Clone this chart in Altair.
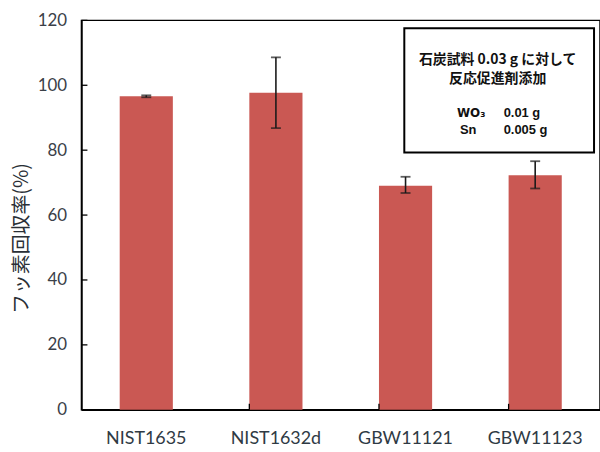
import altair as alt
import pandas as pd

# Fluorine recovery per coal reference material (mean and +/- spread)
samples = ["NIST1635", "NIST1632d", "GBW11121", "GBW11123"]
recovery = [96.6, 97.7, 69.0, 72.3]
err_low = [96.3, 86.8, 66.8, 68.2]
err_high = [96.9, 108.6, 71.8, 76.6]

y_ticks = [0, 20, 40, 60, 80, 100, 120]

df = pd.DataFrame({"sample": samples, "recovery": recovery,
                   "lo": err_low, "hi": err_high})
ticks_df = pd.DataFrame({"v": y_ticks})
bounds_df = pd.DataFrame({"sample": samples[1:]})

BAR = "#ca5853"
LABEL_FONT = "Lato"
JP_FONT = "Noto Sans CJK JP"

x_enc = alt.X("sample:N", sort=samples,
              scale=alt.Scale(paddingInner=0.59, paddingOuter=0.295),
              axis=alt.Axis(title=None, labelAngle=0, ticks=False,
                            labelFont=LABEL_FONT, labelFontSize=18,
                            labelColor="#2f3a44", labelPadding=20,
                            domainColor="black", domainWidth=1.5))
y_scale = alt.Scale(domain=[0, 120], nice=False)

bars = alt.Chart(df).mark_bar(color=BAR).encode(
    x=x_enc,
    y=alt.Y("recovery:Q", scale=y_scale,
            axis=alt.Axis(values=y_ticks, title="フッ素回収率(%)",
                          titleFont=JP_FONT, titleFontSize=20,
                          titleFontWeight="normal", titleColor="#2a2f36",
                          titleAngle=-90, titleX=-60, titleY=219,
                          titleAlign="center", titleBaseline="middle",
                          ticks=False, grid=False,
                          labelFont=LABEL_FONT, labelFontSize=17,
                          labelColor="#3a4048", labelPadding=15,
                          domainColor="black", domainWidth=1.5)),
)

err_rule = alt.Chart(df).mark_rule(color="#1a1a1a", strokeWidth=1.6).encode(
    x=alt.X("sample:N", sort=samples),
    y=alt.Y("lo:Q", scale=y_scale),
    y2="hi:Q",
)
err_cap_hi = alt.Chart(df).mark_tick(color="#1a1a1a", thickness=1.8, size=10).encode(
    x=alt.X("sample:N", sort=samples),
    y=alt.Y("hi:Q", scale=y_scale),
)
err_cap_lo = alt.Chart(df).mark_tick(color="#1a1a1a", thickness=1.8, size=10).encode(
    x=alt.X("sample:N", sort=samples),
    y=alt.Y("lo:Q", scale=y_scale),
)

# inward tick marks on the value axis
y_tick_marks = alt.Chart(ticks_df).mark_rule(color="black", strokeWidth=1.3).encode(
    y=alt.Y("v:Q", scale=y_scale),
    x=alt.value(0),
    x2=alt.value(6),
)
# inward tick marks at category boundaries
x_tick_marks = alt.Chart(bounds_df).mark_rule(color="black", strokeWidth=1.3).encode(
    x=alt.X("sample:N", sort=samples, bandPosition=0),
    y=alt.value(392),
    y2=alt.value(386),
)

one = alt.Data(values=[{}])
note_box = alt.Chart(one).mark_rect(fill="white", stroke="black", strokeWidth=2).encode(
    x=alt.value(325), x2=alt.value(516), y=alt.value(8), y2=alt.value(133),
)


def note(text, x, y, align="center", font=JP_FONT, size=14, line_height=19):
    return alt.Chart(one).mark_text(
        text=text, font=font, fontSize=size, fontWeight="bold",
        align=align, baseline="middle", color="#111111", lineHeight=line_height,
    ).encode(x=alt.value(x), y=alt.value(y))


notes = [
    note(["石炭試料  0.03 g に対して", "反応促進剤添加"], 419, 40),
    note("WO₃", 378, 93, align="left", font="DejaVu Sans", size=12),
    note("0.01  g", 425, 93, align="left", font="Liberation Sans", size=13),
    note("Sn", 381, 110, align="left", font="Liberation Sans", size=13),
    note("0.005  g", 425, 110, align="left", font="Liberation Sans", size=13),
]

chart = alt.layer(
    bars, err_rule, err_cap_hi, err_cap_lo, y_tick_marks, x_tick_marks,
    note_box, *notes,
).properties(
    width=522, height=392,
    autosize=alt.AutoSizeParams(type="none"),
    padding={"left": 82, "top": 19, "right": 0, "bottom": 41},
    background="white",
).configure_view(stroke="black", strokeWidth=1.5)

chart.save("out.html", embed_options={"renderer": "svg", "actions": False})
